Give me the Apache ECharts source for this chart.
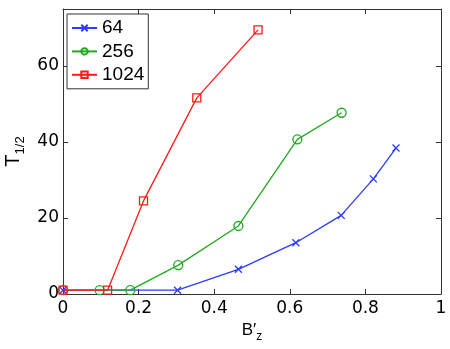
<!DOCTYPE html>
<html>
<head>
<meta charset="utf-8">
<script src="https://cdn.jsdelivr.net/npm/echarts@6/dist/echarts.min.js"></script>
<style>
  html, body { margin: 0; padding: 0; background: #fff; }
  #chart { width: 450px; height: 349px; }
</style>
</head>
<body>
<div id="chart"></div>
<script>
// series data: [B'z, T1/2]
var seriesNames = ['64', '256', '1024'];
var data64 = [[0, 1], [0.303, 1], [0.464, 6.5], [0.616, 13.5], [0.736, 20.7], [0.821, 30.3], [0.881, 38.4]];
var data256 = [[0, 1], [0.097, 1], [0.178, 1], [0.305, 7.6], [0.464, 17.9], [0.62, 40.7], [0.737, 47.7]];
var data1024 = [[0, 1], [0.118, 1], [0.213, 24.5], [0.354, 51.6], [0.516, 69.5]];
var xTicks = [0, 0.2, 0.4, 0.6, 0.8, 1];
var yTicks = [0, 20, 40, 60];

var colors = ['#2b3cff', '#22a822', '#ff1a1a'];
var FONT = 'Liberation Sans';
var TICKFONT = 'DejaVu Sans';

function mkSeries(name, data, color, symbol, size) {
    return {
        name: name,
        type: 'line',
        data: data,
        symbol: symbol,
        symbolSize: size,
        showAllSymbol: true,
        lineStyle: { color: color, width: 1.3 },
        itemStyle: { color: 'transparent', borderColor: color, borderWidth: 1.3 },
        emphasis: { disabled: true },
        animation: false
    };
}

// top / right box axes, ticks only
function boxAxis(pos) {
    return {
        type: 'value',
        position: pos,
        min: 0,
        max: pos === 'top' ? 1 : 75,
        interval: pos === 'top' ? 0.2 : 20,
        axisLine: { show: true, onZero: false, lineStyle: { color: '#333', width: 1 } },
        axisTick: { show: true, inside: true, length: 5, lineStyle: { color: '#333' } },
        axisLabel: { show: false },
        splitLine: { show: false }
    };
}

var chart = echarts.init(document.getElementById('chart'));

var option = {
    backgroundColor: '#fff',
    grid: { left: 63, right: 9, top: 9, bottom: 55, containLabel: false, outerBoundsMode: 'none' },
    legend: {
        orient: 'vertical',
        left: 67,
        top: 14,
        data: seriesNames,
        itemWidth: 25,
        itemHeight: 8,
        itemGap: 3.4,
        padding: [4, 4, 4, 4],
        borderColor: '#333',
        borderWidth: 1,
        backgroundColor: '#fff',
        textStyle: { fontFamily: FONT, fontSize: 19, lineHeight: 20, color: '#000' }
    },
    xAxis: [{
        type: 'value',
        min: 0, max: 1, interval: 0.2,
        name: '{a|B′}{b|z}',
        nameLocation: 'middle',
        nameGap: 16,
        nameTextStyle: {
            rich: {
                a: { fontFamily: FONT, fontSize: 17, color: '#000' },
                b: { fontFamily: FONT, fontSize: 12, color: '#000', padding: [12, 0, 0, 0] }
            }
        },
        axisLine: { onZero: false, lineStyle: { color: '#333', width: 1 } },
        axisTick: { inside: true, length: 5, lineStyle: { color: '#333' } },
        axisLabel: {
            fontFamily: TICKFONT, fontSize: 17, color: '#000', margin: 6,
            formatter: function (v) { return xTicks.indexOf(v) >= 0 ? String(v) : ''; }
        },
        splitLine: { show: false }
    }, boxAxis('top')],
    yAxis: [{
        type: 'value',
        min: 0, max: 75, interval: 20,
        name: '{a|T}{b|1/2}',
        nameLocation: 'middle',
        nameRotate: 90,
        nameGap: 36,
        nameTextStyle: {
            rich: {
                a: { fontFamily: FONT, fontSize: 20, color: '#000' },
                b: { fontFamily: FONT, fontSize: 13, color: '#000', padding: [12, 0, 0, 0] }
            }
        },
        axisLine: { show: true, onZero: false, lineStyle: { color: '#333', width: 1 } },
        axisTick: { show: true, inside: true, length: 5, lineStyle: { color: '#333' } },
        axisLabel: {
            fontFamily: TICKFONT, fontSize: 17, color: '#000', margin: 4,
            formatter: function (v) { return yTicks.indexOf(v) >= 0 ? String(v) : ''; }
        },
        splitLine: { show: false }
    }, boxAxis('right')],
    series: [
        mkSeries(seriesNames[0], data64, colors[0], 'path://M0,0L10,10M10,0L0,10', 7),
        mkSeries(seriesNames[1], data256, colors[1], 'circle', 9),
        mkSeries(seriesNames[2], data1024, colors[2], 'rect', 8),
        { type: 'line', xAxisIndex: 1, yAxisIndex: 1, data: [], silent: true }
    ]
};

chart.setOption(option);
</script>
</body>
</html>
